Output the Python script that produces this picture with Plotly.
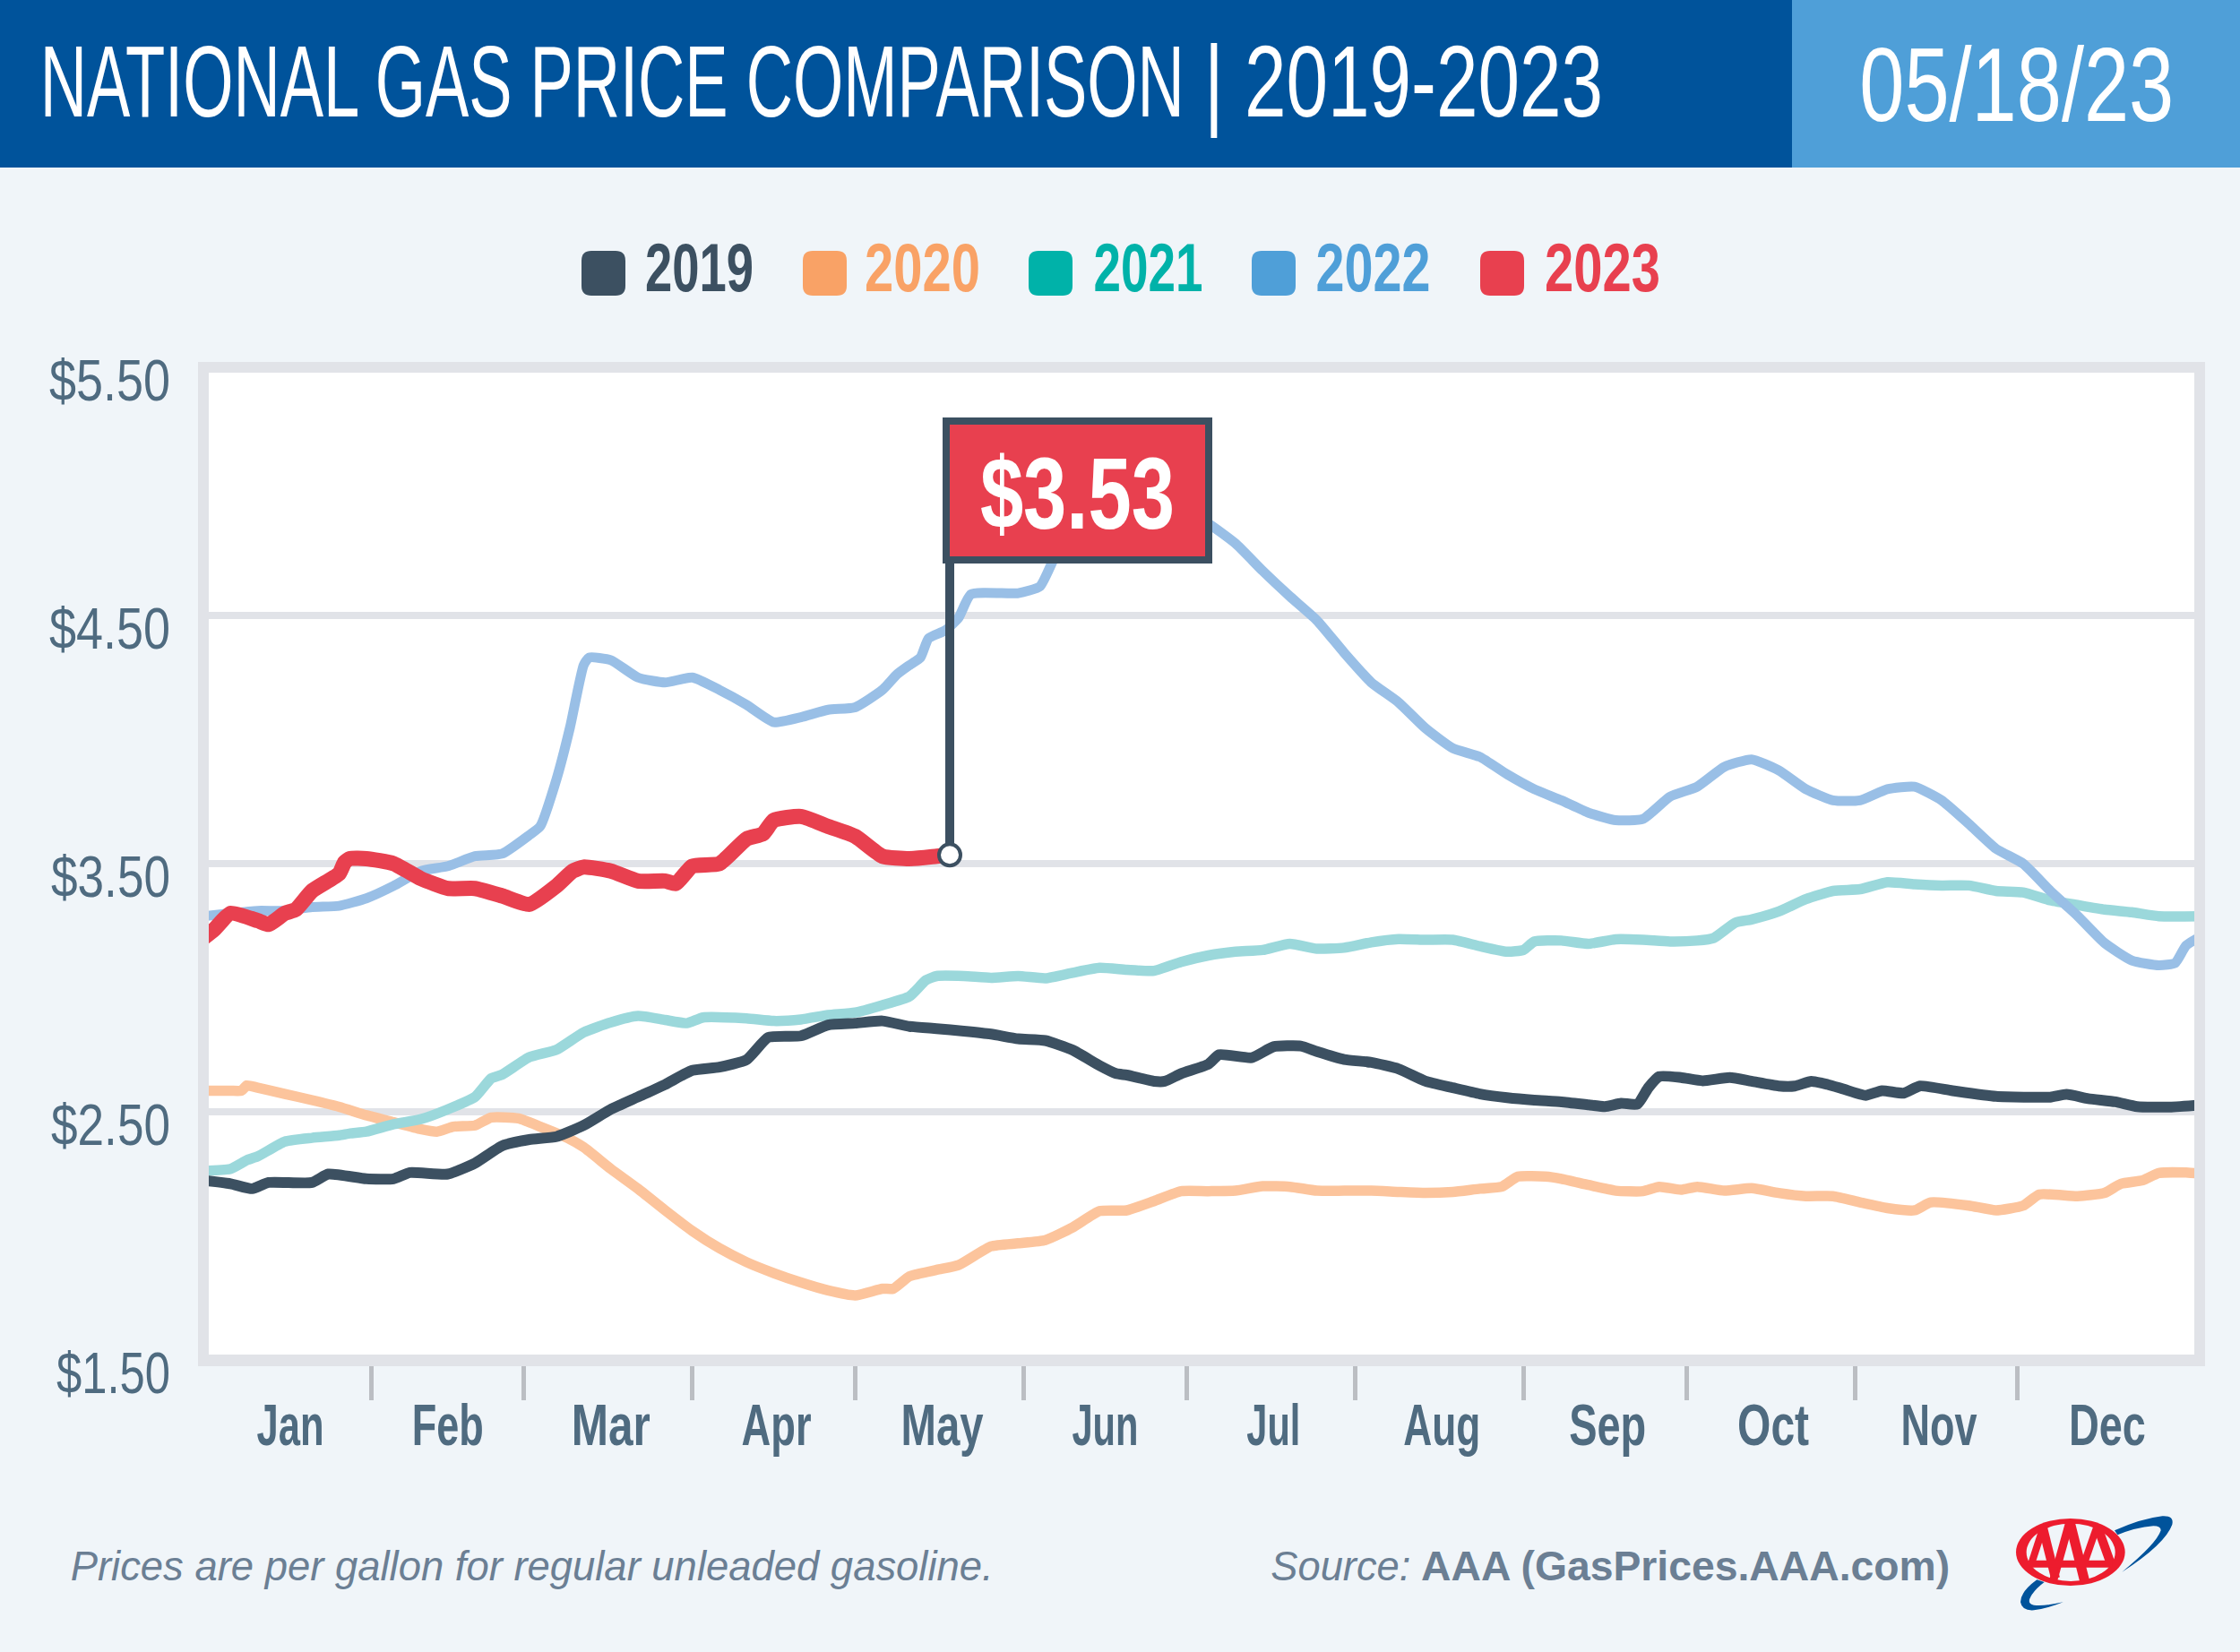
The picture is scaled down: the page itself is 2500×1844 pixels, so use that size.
import json
import plotly.graph_objects as go

# ---------- data (day of year from Jan 1, price in $) ----------
days_2019 = [0,5,9,12,20,23,30,35,38,45,50,55,60,65,70,75,80,85,90,95,100,104,110,115,120,125,130,135,140,145,150,155,160,165,168,170,175,177,180,185,187,193,197,202,205,210,215,220,225,230,235,240,245,250,255,258,261,264,266,268,272,276,281,285,290,293,296,299,302,306,309,313,316,322,330,340,343,347,352,356,362,368]
vals_2019 = [2.224,2.21,2.19,2.215,2.215,2.249,2.23,2.23,2.255,2.249,2.293,2.363,2.388,2.40,2.445,2.51,2.56,2.61,2.667,2.68,2.71,2.80,2.806,2.85,2.857,2.866,2.844,2.835,2.825,2.813,2.794,2.787,2.749,2.686,2.654,2.648,2.623,2.623,2.654,2.692,2.73,2.718,2.762,2.765,2.743,2.711,2.699,2.673,2.623,2.597,2.572,2.557,2.547,2.54,2.528,2.521,2.534,2.531,2.597,2.642,2.638,2.625,2.638,2.623,2.604,2.604,2.623,2.61,2.591,2.566,2.585,2.575,2.604,2.585,2.562,2.559,2.57,2.553,2.54,2.521,2.519,2.528]
days_2020 = [0,5,7,8,10,15,20,25,30,35,40,43,46,50,53,58,62,67,70,75,80,85,90,95,100,105,110,115,120,125,127,130,135,139,145,150,155,160,165,170,175,180,185,190,195,200,205,210,215,220,225,230,235,239,242,247,250,255,260,265,268,272,275,280,285,290,295,300,305,310,315,318,325,330,335,338,345,350,353,357,360,365,368]
vals_2020 = [2.585,2.585,2.585,2.606,2.597,2.572,2.547,2.52,2.486,2.458,2.43,2.42,2.44,2.445,2.477,2.473,2.44,2.395,2.357,2.27,2.19,2.103,2.02,1.95,1.894,1.85,1.812,1.78,1.76,1.787,1.787,1.837,1.863,1.882,1.958,1.97,1.983,2.034,2.10,2.103,2.14,2.18,2.18,2.182,2.20,2.198,2.182,2.182,2.182,2.177,2.173,2.177,2.19,2.198,2.239,2.239,2.23,2.205,2.182,2.18,2.198,2.186,2.198,2.182,2.192,2.173,2.16,2.16,2.135,2.112,2.103,2.135,2.122,2.103,2.122,2.167,2.16,2.173,2.21,2.224,2.253,2.255,2.249]
days_2021 = [0,5,8,10,15,20,25,27,30,35,40,45,50,53,55,60,65,70,75,80,85,89,92,100,105,110,115,120,125,130,133,135,140,145,150,155,160,165,170,175,180,185,190,195,200,205,210,215,220,225,230,235,240,243,245,250,255,260,265,270,275,278,282,285,290,295,300,305,310,315,320,325,330,335,340,345,350,355,360,368]
vals_2021 = [2.262,2.27,2.305,2.32,2.38,2.395,2.405,2.413,2.42,2.45,2.47,2.51,2.56,2.635,2.65,2.72,2.75,2.82,2.86,2.886,2.87,2.857,2.88,2.876,2.866,2.872,2.89,2.90,2.93,2.965,3.03,3.047,3.047,3.04,3.047,3.038,3.06,3.08,3.072,3.068,3.104,3.13,3.145,3.152,3.177,3.157,3.161,3.183,3.196,3.193,3.193,3.167,3.145,3.152,3.186,3.19,3.177,3.195,3.193,3.186,3.19,3.20,3.262,3.275,3.307,3.357,3.39,3.397,3.425,3.417,3.412,3.412,3.39,3.384,3.352,3.333,3.315,3.304,3.288,3.288]
days_2022 = [0,5,10,15,20,25,30,35,40,45,50,55,60,62,65,67.5,70,71,75,80,85,90,95,100,105,110,115,120,125,127.7,130,132,133.5,136.6,139,141.3,150,154,156.6,160,165,170,175,180,185,190,195,200,205,210,215,220,225,230,235,240,245,250,255,260,265,270,275,280,285,290,295,300,305,310,315,320,325,330,335,340,345,350,355,360,363,365,368]
vals_2022 = [3.288,3.30,3.31,3.31,3.325,3.33,3.36,3.41,3.47,3.49,3.53,3.54,3.615,3.65,3.84,4.05,4.30,4.33,4.32,4.25,4.23,4.25,4.20,4.14,4.07,4.09,4.12,4.13,4.20,4.263,4.30,4.33,4.408,4.44,4.49,4.585,4.59,4.617,4.73,4.86,5.01,4.99,4.96,4.92,4.87,4.79,4.68,4.577,4.48,4.35,4.23,4.15,4.045,3.965,3.93,3.86,3.80,3.755,3.705,3.675,3.68,3.77,3.81,3.89,3.92,3.876,3.80,3.755,3.755,3.80,3.81,3.755,3.66,3.56,3.50,3.39,3.29,3.18,3.11,3.09,3.10,3.17,3.21]
days_2023 = [0,2,5,10,12,15,17,20,25,26,27,30,35,40,45,50,55,60,65,68,70,75,80,85,87,90,95,100,103,105,110,115,120,125,130,135,137.4]
vals_2023 = [3.20,3.235,3.30,3.27,3.255,3.30,3.315,3.39,3.46,3.505,3.52,3.52,3.50,3.44,3.40,3.40,3.37,3.336,3.41,3.47,3.486,3.47,3.43,3.43,3.42,3.49,3.50,3.60,3.62,3.675,3.69,3.65,3.61,3.53,3.52,3.53,3.535]
year_labels = ["2019","2020","2021","2022","2023"]
month_names = ["Jan","Feb","Mar","Apr","May","Jun","Jul","Aug","Sep","Oct","Nov","Dec"]
month_lengths = [31,28,31,30,31,30,31,31,30,31,30,31]
month_label_days = [16,45,75,105.5,136,166,197,228,258.5,289,319.5,350.5]
price_ticks = [1.5,2.5,3.5,4.5,5.5]
latest_price = 3.535
latest_day = 137.4
latest_label = "$3.53"

# ---------- style ----------
W, H = 2500, 1844
L, R, T, B = 227, 2455, 410, 1518
NARROW = "Liberation Sans Narrow, Liberation Sans, sans-serif"
SANS = "Liberation Sans, sans-serif"
BG = "#F0F5F9"; NAVY = "#00539B"; SKY = "#4F9FD8"; FRAME = "#E1E3E8"; DARK = "#3C5061"; RED = "#E8404F"
AXIS_TEXT = "#4F6B80"; NOTE = "#6B7F94"; LOGO_RED = "#ED1C2E"
line_colors = ["#3C5061", "#FCC49C", "#9BD8DB", "#99BFE6", "#E8404F"]
line_widths = [12, 11.5, 11.5, 11, 17]
legend_colors = ["#3C5061", "#F9A266", "#00B2A9", "#4F9FD8", "#E8404F"]

px = lambda x: (x - L) / (R - L)
py = lambda y: (B - y) / (B - T)

def box(x0, y0, x1, y1, color, line=None, lw=0):
    return dict(type="rect", xref="paper", yref="paper", x0=px(x0), x1=px(x1), y0=py(y0), y1=py(y1),
                fillcolor=color, line=dict(color=line or color, width=lw), layer="above")

def rounded(x0, y0, x1, y1, r, color):
    a, b, c, d = px(x0), px(x1), py(y0), py(y1)
    rx, ry = r / (R - L), r / (B - T)
    p = (f"M{a+rx},{c} L{b-rx},{c} Q{b},{c} {b},{c-ry} L{b},{d+ry} Q{b},{d} {b-rx},{d} "
         f"L{a+rx},{d} Q{a},{d} {a},{d+ry} L{a},{c-ry} Q{a},{c} {a+rx},{c} Z")
    return dict(type="path", xref="paper", yref="paper", path=p, fillcolor=color, line=dict(width=0), layer="above")

def label(text, x, y, size, color, family=NARROW):
    return dict(text=text, xref="paper", yref="paper", x=px(x), y=py(y), xanchor="center", yanchor="middle",
                showarrow=False, font=dict(family=family, size=size, color=color))

# logo geometry is traced in the crop's own coordinates
lx = lambda x: px(2230 + x / 3)
ly = lambda y: py(1680 + y / 3)
def logo_path(cmds, color, lw=0):
    out = []
    for c in cmds:
        out.append(c[0] + " ".join(f"{lx(c[i])},{ly(c[i+1])}" for i in range(1, len(c), 2)))
    return dict(type="path", xref="paper", yref="paper", path=" ".join(out) + " Z", fillcolor=color,
                line=dict(width=lw, color=color), layer="above")
def logo_stroke(x0, y0, x1, y1, w):
    return dict(type="line", xref="paper", yref="paper", x0=lx(x0), y0=ly(y0), x1=lx(x1), y1=ly(y1),
                line=dict(color=LOGO_RED, width=w), layer="above")
def logo_oval(x0, y0, x1, y1, color):
    return dict(type="circle", xref="paper", yref="paper", x0=lx(x0), x1=lx(x1), y0=ly(y0), y1=ly(y1),
                fillcolor=color, line=dict(width=0), layer="above")

fig = go.Figure()
series = [(days_2019, vals_2019), (days_2020, vals_2020), (days_2021, vals_2021), (days_2022, vals_2022), (days_2023, vals_2023)]
for i in [1, 2, 3, 0, 4]:
    d, v = series[i]
    fig.add_trace(go.Scatter(x=d, y=v, mode="lines", name=year_labels[i], showlegend=False,
                             line=dict(color=line_colors[i], width=line_widths[i], shape="spline", smoothing=0.5)))
fig.add_trace(go.Scatter(x=[latest_day], y=[latest_price], mode="markers", showlegend=False,
                         marker=dict(size=24, color="white", line=dict(color=DARK, width=4))))

month_starts = [sum(month_lengths[:i]) for i in range(1, 12)]

shapes = [
    box(0, 0, 2000, 187, NAVY), box(2000, 0, W, 187, SKY),
    # plot frame
    box(221, 404, 233, 1525, FRAME), box(2449, 404, 2461, 1525, FRAME),
    box(221, 404, 2461, 416, FRAME), box(221, 1512, 2461, 1525, FRAME),
    # flag
    dict(type="line", xref="x", yref="y", x0=latest_day, x1=latest_day, y0=latest_price + 0.045, y1=5.27,
         line=dict(color=DARK, width=10), layer="above"),
    box(1056, 470, 1349, 625, RED, line=DARK, lw=8),
]
leg_swatch = [(649, 698), (896, 945), (1148, 1197), (1397, 1446), (1652, 1701)]
leg_text_x = [780, 1029.5, 1281, 1532, 1788.5]
for (a, b), c in zip(leg_swatch, legend_colors):
    shapes.append(rounded(a, 280, b, 330, 11, c))

# AAA logo
shapes += [
    logo_path([("M",390,85),("Q",480,45,550,37),("Q",590,35,583,65),("Q",560,130,415,224),("Q",530,130,545,85),("Q",545,70,520,70),("Q",460,75,400,100)], NAVY),
    logo_path([("M",130,250),("Q",75,290,75,325),("Q",80,355,120,352),("Q",170,345,218,325),("Q",150,340,120,335),("Q",95,330,110,305),("Q",125,280,155,258)], NAVY),
    logo_oval(60, 45, 425, 270, LOGO_RED),
    logo_oval(95, 62, 392, 255, BG),
    logo_stroke(240, 55, 185, 252, 9), logo_stroke(240, 55, 290, 255, 11),
    logo_stroke(150, 78, 112, 195, 8), logo_stroke(150, 75, 192, 245, 10),
    logo_stroke(330, 75, 290, 190, 8), logo_stroke(335, 78, 378, 198, 10),
    logo_stroke(105, 197, 382, 197, 8),
]

anns = [
    label("NATIONAL GAS PRICE COMPARISON", 683.5, 91, 113, "white"),
    label("| 2019-2023", 1566, 91, 113, "white"),
    label("05/18/23", 2251, 95, 116, "white"),
    label(f"<b>{latest_label}</b>", 1202, 551, 113, "white"),
    label("<i>Prices are per gallon for regular unleaded gasoline.</i>", 593, 1748, 46, NOTE, SANS),
    label("<i>Source:</i>", 1497, 1748, 46, NOTE, SANS),
    label("<b>AAA (GasPrices.AAA.com)</b>", 1881, 1748, 46, NOTE, SANS),
]
for tx, name, c in zip(leg_text_x, year_labels, legend_colors):
    anns.append(label(f"<b>{name}</b>", tx, 299, 76, c))

fig.update_layout(
    width=W, height=H, autosize=False,
    margin=dict(l=L, r=W - R, t=T, b=H - B, pad=0),
    paper_bgcolor=BG, plot_bgcolor="white", showlegend=False,
    shapes=shapes, annotations=anns,
    xaxis=dict(range=[0, 367.5], showgrid=False, zeroline=False, showline=False,
               tickmode="array", tickvals=month_label_days, ticktext=[f"<b>{m}</b>" for m in month_names],
               ticks="", ticklabelstandoff=29,
               tickfont=dict(family=NARROW, size=65, color=AXIS_TEXT),
               minor=dict(tickmode="array", tickvals=month_starts, ticks="outside", ticklen=44, tickwidth=5,
                          tickcolor="#BBBEC3", showgrid=False)),
    yaxis=dict(range=[1.5, 5.5], tickmode="array", tickvals=price_ticks,
               ticktext=[f"${p:.2f}" for p in price_ticks],
               showgrid=True, gridcolor=FRAME, gridwidth=8, zeroline=False, showline=False, ticks="",
               ticklabelstandoff=36, ticklabelshift=15,
               tickfont=dict(family=NARROW, size=64, color=AXIS_TEXT)),
)

widths = {
    "NATIONAL GAS PRICE COMPARISON": 1277, "| 2019-2023": 445, "05/18/23": 351, "$3.53": 217,
    "2019": 121, "2020": 129, "2021": 122, "2022": 128, "2023": 129,
    "Jan": 75, "Feb": 80, "Mar": 88, "Apr": 78, "May": 92, "Jun": 74, "Jul": 60, "Aug": 86, "Sep": 86, "Oct": 80, "Nov": 85, "Dec": 86,
    "$1.50": 127, "$2.50": 133, "$3.50": 133, "$4.50": 135, "$5.50": 135,
    "Prices are per gallon for regular unleaded gasoline.": 1030, "Source:": 156, "AAA (GasPrices.AAA.com)": 590,
}
post = """
document.body.style.margin='0';document.body.style.overflow='hidden';
var w=%s;
document.querySelectorAll('svg text').forEach(function(t){var k=t.textContent.trim();
 if(w[k]){t.setAttribute('textLength',w[k]);t.setAttribute('lengthAdjust','spacingAndGlyphs');
  t.querySelectorAll('tspan').forEach(function(s){s.setAttribute('textLength',w[k]);s.setAttribute('lengthAdjust','spacingAndGlyphs');});
  var g=t.closest('.annotation');
  if(g){g.querySelectorAll('rect').forEach(function(r){var x=+r.getAttribute('x'),wd=+r.getAttribute('width');
    r.setAttribute('x',x+(wd-w[k])/2);r.setAttribute('width',w[k]);});}}});
""" % json.dumps(widths)
fig.write_html("out.html", post_script=post, config={"displayModeBar": False})
